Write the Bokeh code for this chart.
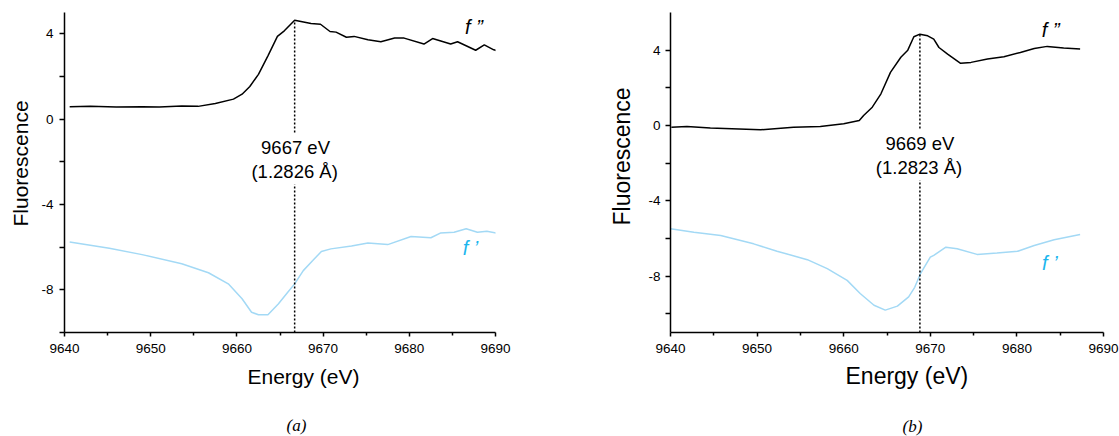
from bokeh.plotting import figure
from bokeh.layouts import row
from bokeh.models import Range1d, FixedTicker, Label, Title
from bokeh.embed import file_html
from bokeh.resources import INLINE

# ---------------- data: panel (a) ----------------
energy_fpp_a = [9640.6, 9643.0, 9646.0, 9649.0, 9651.0, 9653.6, 9655.5, 9657.5, 9659.6, 9660.6,
                9661.5, 9662.5, 9663.6, 9664.7, 9665.5, 9666.7, 9668.6, 9669.7, 9670.8, 9671.5,
                9672.7, 9673.6, 9675.2, 9676.7, 9678.3, 9679.4, 9681.7, 9682.7, 9684.8, 9685.6,
                9687.7, 9688.7, 9689.8, 9690.6]
fpp_a = [0.58, 0.60, 0.57, 0.58, 0.57, 0.62, 0.60, 0.73, 0.94, 1.17,
         1.53, 2.10, 2.97, 3.88, 4.14, 4.64, 4.48, 4.45, 4.11, 4.08,
         3.84, 3.88, 3.72, 3.63, 3.80, 3.80, 3.52, 3.78, 3.52, 3.63,
         3.23, 3.48, 3.25, 3.17]

energy_fp_a = [9640.6, 9645.2, 9649.0, 9653.6, 9656.7, 9659.0, 9660.6, 9661.7, 9662.5, 9663.6,
               9664.8, 9665.9, 9666.7, 9667.7, 9668.8, 9669.8, 9670.9, 9673.3, 9675.2, 9677.5,
               9680.2, 9682.5, 9683.6, 9685.2, 9686.6, 9687.9, 9689.0, 9690.6]
fp_a = [-5.76, -6.05, -6.35, -6.78, -7.20, -7.72, -8.42, -9.05, -9.17, -9.17,
        -8.66, -8.11, -7.72, -7.10, -6.63, -6.20, -6.08, -5.95, -5.80, -5.88,
        -5.50, -5.56, -5.34, -5.30, -5.14, -5.30, -5.25, -5.38]

edge_a = [9666.7]
peak_a = [4.64]
label_a = ["9667 eV", "(1.2826 Å)"]

# ---------------- data: panel (b) ----------------
energy_fpp_b = [9640.1, 9641.9, 9644.6, 9650.4, 9654.2, 9657.3, 9660.0, 9661.8, 9662.3, 9663.3,
                9664.3, 9665.4, 9666.6, 9667.4, 9668.1, 9668.8, 9669.7, 9670.4, 9671.0, 9672.0,
                9673.5, 9674.7, 9676.6, 9678.5, 9680.4, 9682.0, 9683.5, 9685.4, 9687.3]
fpp_b = [-0.09, -0.05, -0.14, -0.23, -0.09, -0.05, 0.09, 0.26, 0.53, 0.97,
         1.68, 2.82, 3.62, 4.00, 4.71, 4.85, 4.76, 4.59, 4.14, 3.79,
         3.30, 3.35, 3.53, 3.65, 3.88, 4.09, 4.20, 4.11, 4.06]

energy_fp_b = [9640.0, 9642.7, 9645.8, 9646.6, 9649.6, 9652.3, 9655.8, 9658.1, 9660.4, 9661.9,
               9663.5, 9664.8, 9666.2, 9667.5, 9668.2, 9668.9, 9670.0, 9670.4, 9671.8, 9673.1,
               9675.4, 9677.7, 9680.1, 9682.0, 9684.3, 9687.3]
fp_b = [-5.49, -5.67, -5.85, -5.94, -6.29, -6.68, -7.13, -7.61, -8.23, -8.93,
        -9.55, -9.81, -9.60, -9.11, -8.60, -7.84, -7.00, -6.90, -6.47, -6.55,
        -6.85, -6.78, -6.68, -6.38, -6.07, -5.79]

edge_b = [9668.8]
peak_b = [4.85]
label_b = ["9669 eV", "(1.2823 Å)"]

x_ticks = [9640, 9650, 9660, 9670, 9680, 9690]
x_minor = [9645, 9655, 9665, 9675, 9685]
y_ticks = [-8, -4, 0, 4]
y_minor = [-10, -6, -2, 2]
y_tick_labels = {-8: "-8", -4: "-4", 0: "0", 4: "4"}

FONT = "Liberation Sans"
SERIF = "Liberation Serif"
BLACK = "#000000"
LINE_BLUE = "#a3d9f5"
TEXT_BLUE = "#1cb6ee"


def panel(width, ylo, yhi, mb_left, mb_right, mb_top, mb_bottom, ystandoff):
    p = figure(width=width, height=436, output_backend="svg", toolbar_location=None,
               x_range=Range1d(9640, 9690), y_range=Range1d(ylo, yhi),
               min_border_left=mb_left, min_border_right=mb_right,
               min_border_top=mb_top, min_border_bottom=mb_bottom)
    p.outline_line_color = None
    p.xgrid.visible = False
    p.ygrid.visible = False
    p.background_fill_color = "white"
    p.border_fill_color = "white"
    for ax in (p.xaxis[0], p.yaxis[0]):
        ax.axis_line_width = 1.5
        ax.axis_line_color = BLACK
        ax.major_tick_line_width = 1.5
        ax.minor_tick_line_width = 1.5
        ax.major_tick_line_color = BLACK
        ax.minor_tick_line_color = BLACK
        ax.major_tick_in = 0
        ax.minor_tick_in = 0
        ax.major_label_text_font = FONT
        ax.major_label_text_font_size = "13.5px"
        ax.major_label_text_color = BLACK
    p.xaxis.ticker = FixedTicker(ticks=x_ticks, minor_ticks=x_minor)
    p.xaxis.major_tick_out = 4
    p.xaxis.minor_tick_out = 3
    p.xaxis.major_label_standoff = 7
    p.yaxis.ticker = FixedTicker(ticks=y_ticks, minor_ticks=y_minor)
    p.yaxis.major_label_overrides = y_tick_labels
    p.yaxis.major_tick_out = 5
    p.yaxis.minor_tick_out = 5
    p.yaxis.major_label_standoff = ystandoff
    return p


def txt(p, x, y, text, size, color=BLACK, style="normal", boxed=False):
    p.add_layout(Label(x=x, y=y, text=text, text_font=FONT, text_font_size=size,
                       text_color=color, text_font_style=style, text_align="center",
                       text_baseline="middle",
                       background_fill_color="white" if boxed else None,
                       padding=3 if boxed else 0))


def side_title(p, text, side, offset, standoff, size, font=FONT, style="normal"):
    p.add_layout(Title(text=text, align="left", offset=offset, standoff=standoff,
                       text_font=font, text_font_size=size, text_font_style=style,
                       text_color=BLACK), side)


# ---------------- panel (a) ----------------
pa = panel(560, -10, 5, 62, 65, 12, 103, 6)
pa.line(energy_fpp_a, fpp_a, line_color=BLACK, line_width=1.5)
pa.line(energy_fp_a, fp_a, line_color=LINE_BLUE, line_width=1.5)
pa.segment(x0=edge_a, y0=[-10], x1=edge_a, y1=peak_a, line_color=BLACK,
           line_width=1.5, line_dash="2 2")
txt(pa, 9666.8, -1.31, label_a[0], "18.5px", boxed=True)
txt(pa, 9666.7, -2.43, label_a[1], "18.5px", boxed=True)
txt(pa, 9687.5, 4.3, "f \u201d", "20px", style="italic")
txt(pa, 9687.1, -6.03, "f \u2019", "20px", color=TEXT_BLUE, style="italic")
side_title(pa, "Energy (eV)", "below", 183, 14, "21px")
side_title(pa, "\n(a)", "below", 222, 0, "17px", font=SERIF, style="italic")
side_title(pa, "Fluorescence", "left", 106, 13, "21px")

# ---------------- panel (b) ----------------
pb = panel(559, -11, 6, 110, 16, 11, 104, 5)
pb.line(energy_fpp_b, fpp_b, line_color=BLACK, line_width=1.5)
pb.line(energy_fp_b, fp_b, line_color=LINE_BLUE, line_width=1.5)
pb.segment(x0=edge_b, y0=[-11], x1=edge_b, y1=peak_b, line_color=BLACK,
           line_width=1.5, line_dash="2 2")
txt(pb, 9668.8, -0.94, label_b[0], "18.5px", boxed=True)
txt(pb, 9668.7, -2.21, label_b[1], "18.5px", boxed=True)
txt(pb, 9683.9, 5.05, "f \u201d", "20px", style="italic")
txt(pb, 9683.8, -7.29, "f \u2019", "20px", color=TEXT_BLUE, style="italic")
side_title(pb, "Energy (eV)", "below", 175, 11, "23px")
side_title(pb, "\n(b)", "below", 232, 2, "17px", font=SERIF, style="italic")
side_title(pb, "Fluorescence", "left", 107, 21, "23px")

layout = row(pa, pb)
open("out.html", "w").write(file_html(layout, INLINE))
